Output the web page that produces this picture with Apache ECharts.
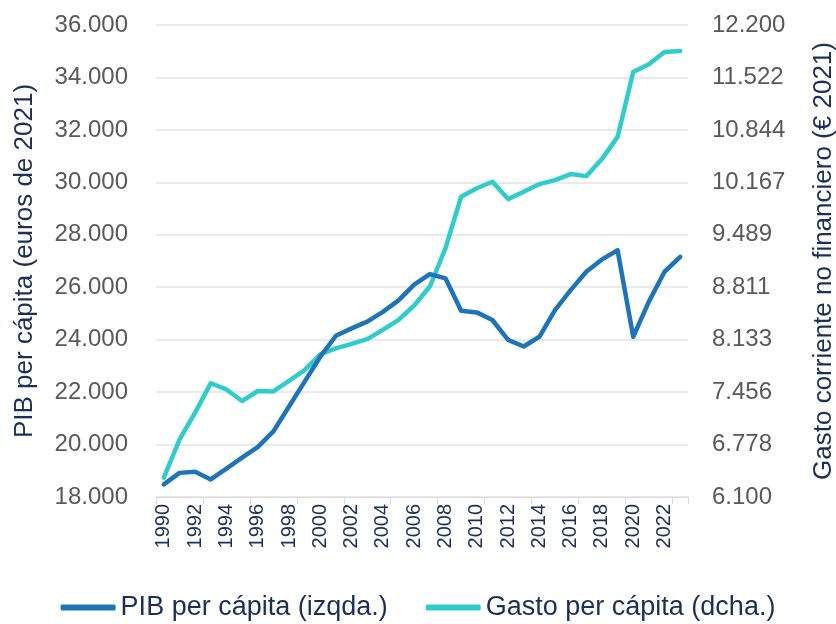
<!DOCTYPE html>
<html>
<head>
<meta charset="utf-8">
<script src="https://cdn.jsdelivr.net/npm/echarts@6/dist/echarts.min.js"></script>
<style>
	html, body { margin: 0; padding: 0; background: #fff; }
	#chart { width: 836px; height: 624px; }
</style>
</head>
<body>
<div id="chart"></div>
<script>
var years = [];
for (var y = 1990; y <= 2023; y++) years.push(String(y));

// PIB per cápita, euros de 2021 (eje izquierdo)
var pibData = [18480, 18920, 18960, 18670, 19080, 19500, 19900, 20500, 21450, 22400,
	23350, 24150, 24430, 24690, 25060, 25500, 26100, 26500, 26340, 25100,
	25040, 24750, 23990, 23740, 24110, 25130, 25890, 26590, 27060, 27410,
	24110, 25450, 26590, 27160];

// Gasto corriente no financiero per cápita, € 2021 (eje derecho)
var gastoData = [6350, 6840, 7190, 7570, 7490, 7340, 7470, 7465, 7600, 7740,
	7945, 8020, 8080, 8140, 8260, 8390, 8575, 8820, 9315, 9980,
	10090, 10174, 9950, 10045, 10144, 10196, 10273, 10247, 10467, 10754,
	11593, 11692, 11851, 11864];

var leftAxis = { min: 18000, max: 36000, interval: 2000 };
var rightAxis = { min: 6100, max: 12200, splits: 9 };

var C_NAVY = '#1b2f57';
var C_GREY = '#595959';
var FONT = '"Liberation Sans", Arial, sans-serif';

function formatMiles(v) {
	var n = Math.round(v).toString();
	return n.replace(/\B(?=(\d{3})+(?!\d))/g, '.');
}

var chart = echarts.init(document.getElementById('chart'));
var option = {
	animation: false,
	textStyle: { fontFamily: FONT },
	grid: { left: 156, right: 148, top: 25, bottom: 127, outerBoundsMode: 'none' },
	legend: {
		top: 589,
		left: 'center',
		itemWidth: 55,
		itemHeight: 6,
		itemGap: 38,
		icon: 'roundRect',
		textStyle: { fontSize: 27, color: C_NAVY, fontFamily: FONT },
		data: ['PIB per cápita (izqda.)', 'Gasto per cápita (dcha.)']
	},
	xAxis: {
		type: 'category',
		boundaryGap: true,
		data: years,
		axisLine: { lineStyle: { color: '#d9d9d9', width: 1 } },
		axisTick: { show: true, interval: 2, length: 7, lineStyle: { color: '#d9d9d9' } },
		axisLabel: { interval: 1, rotate: 90, fontSize: 20, color: C_NAVY, margin: 7 },
		splitLine: { show: false }
	},
	yAxis: [{
		type: 'value',
		position: 'left',
		min: leftAxis.min,
		max: leftAxis.max,
		interval: leftAxis.interval,
		name: 'PIB per cápita (euros de 2021)',
		nameLocation: 'middle',
		nameGap: 118,
		nameTextStyle: { fontSize: 26, color: C_NAVY },
		axisLine: { show: false },
		axisTick: { show: false },
		axisLabel: { fontSize: 24, color: C_GREY, margin: 28, formatter: formatMiles },
		splitLine: { lineStyle: { color: '#e3e3e3', width: 1.5 } }
	}, {
		type: 'value',
		position: 'right',
		min: rightAxis.min,
		max: rightAxis.max,
		interval: (rightAxis.max - rightAxis.min) / rightAxis.splits,
		name: 'Gasto corriente no financiero (€ 2021)',
		nameLocation: 'middle',
		nameGap: 123,
		nameRotate: 90,
		nameTextStyle: { fontSize: 26, color: C_NAVY },
		axisLine: { show: false },
		axisTick: { show: false },
		axisLabel: { fontSize: 24, color: C_GREY, margin: 24, formatter: formatMiles },
		splitLine: { show: false }
	}],
	series: [{
		name: 'PIB per cápita (izqda.)',
		type: 'line',
		yAxisIndex: 0,
		data: pibData,
		showSymbol: false,
		color: '#1f74b8',
		lineStyle: { width: 4.5, color: '#1f74b8', cap: 'round', join: 'round' },
		z: 3
	}, {
		name: 'Gasto per cápita (dcha.)',
		type: 'line',
		yAxisIndex: 1,
		data: gastoData,
		showSymbol: false,
		color: '#30cccc',
		lineStyle: { width: 4.5, color: '#30cccc', cap: 'round', join: 'round' },
		z: 2
	}]
};
chart.setOption(option);
</script>
</body>
</html>
